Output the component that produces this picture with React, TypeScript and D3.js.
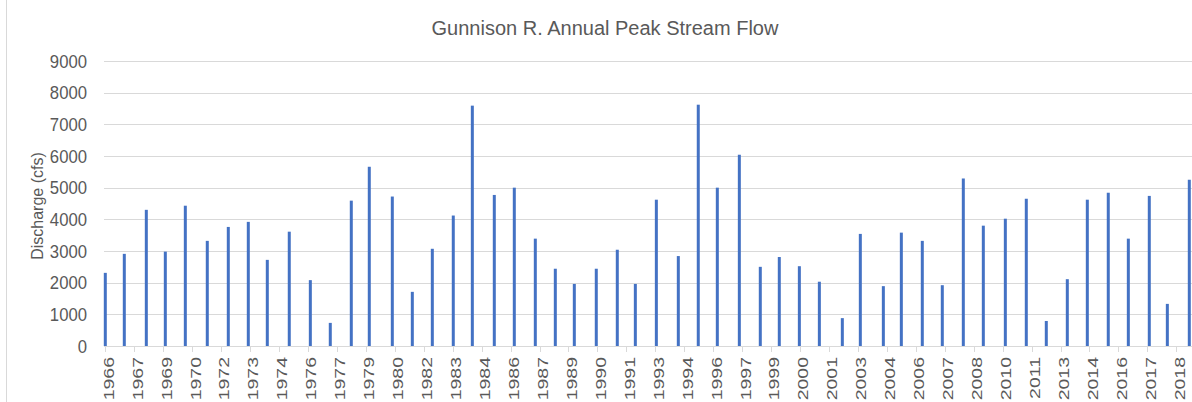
import { useEffect, useRef } from 'react';
import * as d3 from 'd3';

// annual peak dates and discharge in cfs
const peakDates = [
  '1966-06-03', '1967-05-09', '1968-06-06', '1969-05-12', '1970-05-05', '1971-06-02', '1972-06-12', '1973-06-05', '1974-05-11', '1975-06-08',
  '1976-06-19', '1977-06-11', '1978-06-22', '1979-05-10', '1980-06-25', '1981-06-18', '1982-06-11', '1983-06-21', '1984-05-27', '1985-06-24',
  '1986-06-17', '1987-06-28', '1988-06-20', '1989-05-26', '1990-06-23', '1991-07-04', '1992-05-22', '1993-06-02', '1994-06-30', '1995-06-22',
  '1996-05-28', '1997-06-26', '1998-07-06', '1999-06-11', '2000-06-04', '2001-05-28', '2002-07-13', '2003-05-31', '2004-07-16', '2005-06-03',
  '2006-06-13', '2007-06-06', '2008-06-16', '2009-06-09', '2010-07-08', '2011-07-18', '2012-07-10', '2013-07-21', '2014-07-14', '2015-07-24',
  '2016-07-17', '2017-07-27', '2018-06-15', '2019-07-13',
];
const discharge = [
  2310, 2910, 4300, 2980, 4430, 3320, 3760, 3920, 2720, 3610,
  2080, 730, 4590, 5660, 4720, 1710, 3070, 4120, 7590, 4770,
  5000, 3390, 2440, 1960, 2440, 3040, 1960, 4620, 2840, 7620,
  5000, 6040, 2500, 2810, 2520, 2030, 880, 3540, 1890, 3580,
  3320, 1920, 5290, 3800, 4020, 4650, 790, 2110, 4620, 4840,
  3390, 4740, 1330, 5250,
];

// date axis labels, one every tickStepDays from the first peak
const xTickLabels = [
  '1966', '1967', '1969', '1970', '1972', '1973', '1974', '1976', '1977', '1979',
  '1980', '1982', '1983', '1984', '1986', '1987', '1989', '1990', '1991', '1993',
  '1994', '1996', '1997', '1999', '2000', '2001', '2003', '2004', '2006', '2007',
  '2008', '2010', '2011', '2013', '2014', '2016', '2017', '2018',
];
const tickStepDays = 518;
const yTicks = [0, 1000, 2000, 3000, 4000, 5000, 6000, 7000, 8000, 9000];

const W = 1192;
const H = 402;
const FONT = "'Liberation Sans', Arial, sans-serif";
const GREY = '#595959';

export default function App() {
  const svgRef = useRef<SVGSVGElement>(null);

  useEffect(() => {
    if (!svgRef.current) return;
    const svg = d3.select(svgRef.current);
    svg.selectAll('*').remove();

    const parse = d3.timeParse('%Y-%m-%d');
    const data = peakDates.map((d, i) => ({ date: parse(d) as Date, value: discharge[i] }));

    const x = d3.scaleTime()
      .domain([data[0].date, data[data.length - 1].date])
      .range([105.3, 1189.3]);

    const y = d3.scaleLinear()
      .domain([0, 9000])
      .range([346, 61]);

    // chart area left border
    svg.append('line')
      .attr('x1', 6.5).attr('x2', 6.5)
      .attr('y1', 0).attr('y2', H)
      .attr('stroke', '#d9d9d9');

    // gridlines
    svg.selectAll('line.grid')
      .data(yTicks.slice(1))
      .join('line')
      .attr('class', 'grid')
      .attr('x1', 104)
      .attr('x2', W)
      .attr('y1', d => Math.round(y(d)) + 0.5)
      .attr('y2', d => Math.round(y(d)) + 0.5)
      .attr('stroke', '#d9d9d9')
      .attr('stroke-width', 1);

    // y labels
    svg.selectAll('text.ylab')
      .data(yTicks)
      .join('text')
      .attr('class', 'ylab')
      .attr('transform', d => `translate(87,${y(d)}) scale(1,1.1)`)
      .attr('dy', '0.36em')
      .attr('text-anchor', 'end')
      .attr('fill', GREY)
      .attr('font-family', FONT)
      .attr('font-size', '16.7px')
      .text(d => d);

    // bars
    svg.selectAll('rect.bar')
      .data(data)
      .join('rect')
      .attr('class', 'bar')
      .attr('x', d => x(d.date) - 1.5)
      .attr('y', d => y(d.value))
      .attr('width', 3)
      .attr('height', d => y(0) - y(d.value))
      .attr('fill', '#4472c4');

    // x axis line
    svg.append('line')
      .attr('x1', 104).attr('x2', W)
      .attr('y1', 346.5).attr('y2', 346.5)
      .attr('stroke', '#d9d9d9');

    const tickDates = xTickLabels.map((_, i) => d3.timeDay.offset(data[0].date, i * tickStepDays));

    svg.selectAll('line.xtick')
      .data(tickDates)
      .join('line')
      .attr('class', 'xtick')
      .attr('x1', d => Math.round(x(d)) + 0.5)
      .attr('x2', d => Math.round(x(d)) + 0.5)
      .attr('y1', 346)
      .attr('y2', 352)
      .attr('stroke', '#d9d9d9');

    svg.selectAll('text.xlab')
      .data(tickDates)
      .join('text')
      .attr('class', 'xlab')
      .attr('transform', d => `translate(${x(d) + 3},357) rotate(-90) scale(1.3,1)`)
      .attr('dy', '0.36em')
      .attr('text-anchor', 'end')
      .attr('fill', GREY)
      .attr('font-family', FONT)
      .attr('font-size', '15px')
      .text((_, i) => xTickLabels[i]);

    // y axis title
    svg.append('text')
      .attr('transform', 'translate(37,206) rotate(-90)')
      .attr('dy', '0.35em')
      .attr('text-anchor', 'middle')
      .attr('fill', GREY)
      .attr('font-family', FONT)
      .attr('font-size', '16px')
      .text('Discharge (cfs)');

    // title
    svg.append('text')
      .attr('x', 605)
      .attr('y', 28)
      .attr('dy', '0.35em')
      .attr('text-anchor', 'middle')
      .attr('fill', GREY)
      .attr('font-family', FONT)
      .attr('font-size', '20px')
      .text('Gunnison R. Annual Peak Stream Flow');
  }, []);

  return (
    <svg
      ref={svgRef}
      width={W}
      height={H}
      style={{ position: 'absolute', left: 0, top: 0, background: '#fff' }}
    />
  );
}
